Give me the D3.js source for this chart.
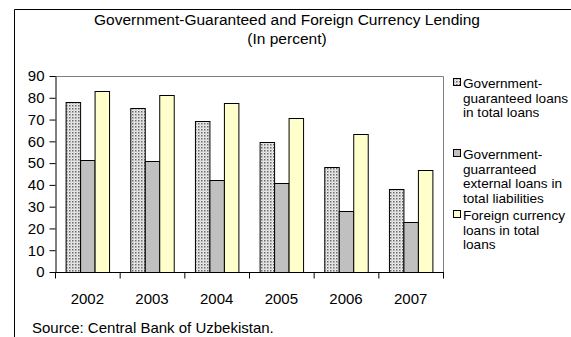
<!DOCTYPE html>
<html>
<head>
<meta charset="utf-8">
<script src="https://cdn.jsdelivr.net/npm/d3@7"></script>
<style>
  body { margin: 0; background: #fff; }
  svg { display: block; font-family: "Liberation Sans", Arial, sans-serif; }
</style>
</head>
<body>
<svg id="chart" width="571" height="337"></svg>
<script>
// Chart data
const years = ["2002", "2003", "2004", "2005", "2006", "2007"];
const govGuaranteed = [78.2, 75.3, 69.2, 59.8, 48.2, 38.1];
const govExternal = [51.4, 50.8, 42.1, 40.7, 28.1, 22.8];
const foreignCurrency = [83.2, 81.3, 77.6, 70.7, 63.4, 47.0];
const yTicks = [0, 10, 20, 30, 40, 50, 60, 70, 80, 90];
const seriesNames = ["govGuaranteed", "govExternal", "foreignCurrency"];
const legendLines = [
  ["Government-", "guaranteed loans", "in total loans"],
  ["Government-", "guarranteed", "external loans in", "total liabilities"],
  ["Foreign currency", "loans in total", "loans"]
];

const svg = d3.select("#chart");

// Dotted fill for the first series
const defs = svg.append("defs");
const pat = defs.append("pattern")
  .attr("id", "dots").attr("patternUnits", "userSpaceOnUse")
  .attr("width", 3).attr("height", 3);
pat.append("rect").attr("width", 3).attr("height", 3).attr("fill", "#eeeeee");
pat.append("rect").attr("x", 0).attr("y", 0).attr("width", 1.5).attr("height", 1.5).attr("fill", "#666666");
pat.append("rect").attr("x", 1.5).attr("y", 1.5).attr("width", 1).attr("height", 1).attr("fill", "#aaaaaa");

const fills = {
  govGuaranteed: "url(#dots)",
  govExternal: "#c0c0c0",
  foreignCurrency: "#ffffcc"
};
const values = { govGuaranteed, govExternal, foreignCurrency };

// Outer frame (left and top edges)
svg.append("path")
  .attr("d", "M14.5,337 V9.5 H571")
  .attr("fill", "none").attr("stroke", "#000").attr("stroke-width", 1);

// Title
const title = svg.append("text")
  .attr("text-anchor", "middle")
  .attr("font-size", 15.5).attr("fill", "#000");
title.append("tspan").attr("x", 287).attr("y", 25).text("Government-Guaranteed and Foreign Currency Lending");
title.append("tspan").attr("x", 287).attr("y", 44).text("(In percent)");

// Plot area
const plotL = 55, plotR = 443, plotT = 76, plotB = 272;
const axisFont = 15;

const x = d3.scaleBand().domain(years).range([plotL, plotR]).paddingInner(0).paddingOuter(0);
const y = d3.scaleLinear().domain([0, 90]).range([plotB, plotT]);
const groupW = x.bandwidth() * 0.672;
const xs = d3.scaleBand().domain(seriesNames).range([0, groupW]).padding(0);

// Plot-area border on top and right
svg.append("path")
  .attr("d", `M${plotL},${plotT + 0.5} H${plotR + 0.5} V${plotB}`)
  .attr("fill", "none").attr("stroke", "#808080").attr("stroke-width", 1);

// Bars
seriesNames.forEach(s => {
  svg.append("g").selectAll("rect")
    .data(years.map((yr, i) => ({ yr, v: values[s][i] })))
    .join("rect")
    .attr("x", d => x(d.yr) + (x.bandwidth() - groupW) / 2 + xs(s) + 0.5)
    .attr("y", d => Math.round(y(d.v)) + 0.5)
    .attr("width", xs.bandwidth())
    .attr("height", d => plotB - Math.round(y(d.v)))
    .attr("fill", fills[s])
    .attr("stroke", "#000").attr("stroke-width", 1);
});

// Y axis
const yAxis = svg.append("g")
  .attr("transform", `translate(${plotL + 0.5},0)`)
  .call(d3.axisLeft(y).tickValues(yTicks).tickSize(6).tickSizeOuter(0).tickPadding(5));
yAxis.selectAll("text").attr("font-size", axisFont).attr("fill", "#000")
  .attr("font-family", "Liberation Sans, Arial, sans-serif");
yAxis.select(".domain").attr("stroke", "#000");
yAxis.selectAll(".tick line").attr("stroke", "#000");

// X axis with ticks between categories
const xAxis = svg.append("g").attr("transform", `translate(0,${plotB + 0.5})`);
xAxis.append("line").attr("x1", plotL).attr("x2", plotR + 1).attr("stroke", "#000");
xAxis.selectAll("line.sep")
  .data(years.concat(["end"]))
  .join("line").attr("class", "sep")
  .attr("x1", (d, i) => i < years.length ? x(d) + 0.5 : plotR + 0.5)
  .attr("x2", (d, i) => i < years.length ? x(d) + 0.5 : plotR + 0.5)
  .attr("y1", 0).attr("y2", 6).attr("stroke", "#000");
xAxis.selectAll("text")
  .data(years).join("text")
  .attr("x", d => x(d) + x.bandwidth() / 2)
  .attr("y", 31).attr("text-anchor", "middle")
  .attr("font-size", axisFont).attr("fill", "#000").text(d => d);

// Legend
const legendTop = [83, 154, 215];
const lineH = 14.7;
seriesNames.forEach((s, i) => {
  const g = svg.append("g");
  g.append("rect")
    .attr("x", 453.5).attr("y", legendTop[i] - 4.5)
    .attr("width", 7).attr("height", 7)
    .attr("fill", fills[s]).attr("stroke", "#000").attr("stroke-width", 1);
  const t = g.append("text").attr("font-size", 13.6).attr("fill", "#000");
  legendLines[i].forEach((ln, j) => {
    t.append("tspan").attr("x", 463).attr("y", legendTop[i] + 5 + j * lineH).text(ln);
  });
});

// Source note
svg.append("text")
  .attr("x", 32).attr("y", 333)
  .attr("font-size", 15).attr("fill", "#000")
  .text("Source: Central Bank of Uzbekistan.");
</script>
</body>
</html>
